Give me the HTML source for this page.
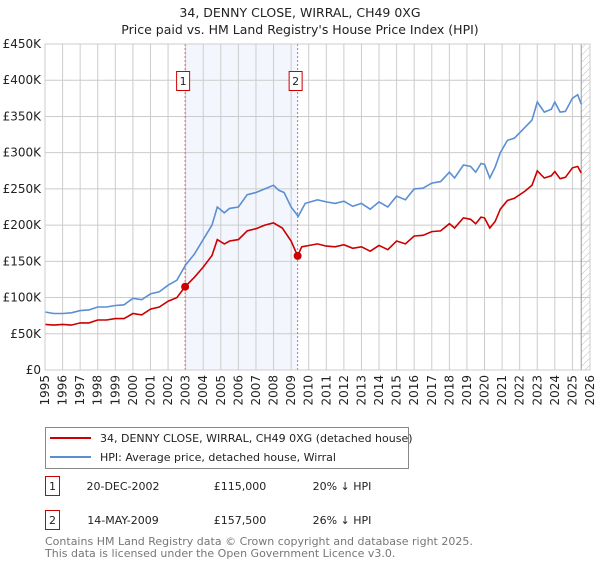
<!DOCTYPE html>
<html><head><meta charset="utf-8"><style>
body{margin:0;background:#fff;font-family:"Liberation Sans","DejaVu Sans",sans-serif;}
svg text{font-family:"DejaVu Sans","Liberation Sans",sans-serif;}
</style></head><body>
<svg width="600" height="560" xmlns="http://www.w3.org/2000/svg">
<defs><pattern id="hatch" width="5" height="5" patternUnits="userSpaceOnUse" patternTransform="rotate(45)"><line x1="0" y1="0" x2="0" y2="5" stroke="#bbb" stroke-width="1"/></pattern></defs>
<text x="300" y="17" text-anchor="middle" font-size="12.5" fill="#222">34, DENNY CLOSE, WIRRAL, CH49 0XG</text>
<text x="300" y="34" text-anchor="middle" font-size="12.5" fill="#222">Price paid vs. HM Land Registry's House Price Index (HPI)</text>
<g id="plot"></g>
<g id="legend">
<rect x="45.5" y="427.5" width="363" height="41" fill="#fff" stroke="#888"/>
<line x1="50" y1="438" x2="91" y2="438" stroke="#cc0000" stroke-width="2"/>
<text x="100" y="442" font-size="11" fill="#222">34, DENNY CLOSE, WIRRAL, CH49 0XG (detached house)</text>
<line x1="50" y1="457" x2="91" y2="457" stroke="#5b8fd4" stroke-width="2"/>
<text x="100" y="461" font-size="11" fill="#222">HPI: Average price, detached house, Wirral</text>
</g>
<g font-size="11" fill="#222">
<rect x="45.5" y="476.5" width="14" height="19" fill="#fff" stroke="#cc0000"/>
<text x="52.5" y="490" text-anchor="middle">1</text>
<text x="123" y="490" text-anchor="middle">20-DEC-2002</text>
<text x="240" y="490" text-anchor="middle">£115,000</text>
<text x="342" y="490" text-anchor="middle">20% ↓ HPI</text>
<rect x="45.5" y="510.5" width="14" height="19" fill="#fff" stroke="#cc0000"/>
<text x="52.5" y="524" text-anchor="middle">2</text>
<text x="123" y="524" text-anchor="middle">14-MAY-2009</text>
<text x="240" y="524" text-anchor="middle">£157,500</text>
<text x="342" y="524" text-anchor="middle">26% ↓ HPI</text>
</g>
<text x="45" y="545" font-size="11" fill="#777">Contains HM Land Registry data © Crown copyright and database right 2025.</text>
<text x="45" y="557" font-size="11" fill="#777">This data is licensed under the Open Government Licence v3.0.</text>
</svg>
<script>
const yTicks=[0,50000,100000,150000,200000,250000,300000,350000,400000,450000];
const yTickLabels=["£0","£50K","£100K","£150K","£200K","£250K","£300K","£350K","£400K","£450K"];
const years=[1995,1996,1997,1998,1999,2000,2001,2002,2003,2004,2005,2006,2007,2008,2009,2010,2011,2012,2013,2014,2015,2016,2017,2018,2019,2020,2021,2022,2023,2024,2025,2026];
const hpiDates=[1995,1995.5,1996,1996.5,1997,1997.5,1998,1998.5,1999,1999.5,2000,2000.5,2001,2001.5,2002,2002.5,2003,2003.5,2004,2004.5,2004.8,2005.2,2005.5,2006,2006.5,2007,2007.5,2008,2008.3,2008.6,2009,2009.4,2009.8,2010.5,2011,2011.5,2012,2012.5,2013,2013.5,2014,2014.5,2015,2015.5,2016,2016.5,2017,2017.5,2018,2018.3,2018.8,2019.2,2019.5,2019.8,2020,2020.3,2020.6,2020.9,2021.3,2021.7,2022.3,2022.7,2023,2023.4,2023.8,2024,2024.3,2024.6,2025,2025.3,2025.5];
const hpiValues=[80000,78000,78000,79000,82000,83000,87000,87000,89000,90000,99000,97000,105000,108000,117000,124000,145000,160000,180000,200000,225000,217000,223000,225000,242000,245000,250000,255000,248000,245000,225000,212000,230000,235000,232000,230000,233000,226000,230000,222000,232000,225000,240000,235000,250000,251000,258000,260000,273000,265000,283000,281000,273000,285000,284000,265000,280000,300000,317000,320000,335000,345000,370000,356000,360000,370000,356000,357000,375000,380000,367000];
const priceDates=[1995,1995.5,1996,1996.5,1997,1997.5,1998,1998.5,1999,1999.5,2000,2000.5,2001,2001.5,2002,2002.5,2002.97,2003.5,2004,2004.5,2004.8,2005.2,2005.5,2006,2006.5,2007,2007.5,2008,2008.5,2009,2009.37,2009.6,2010.5,2011,2011.5,2012,2012.5,2013,2013.5,2014,2014.5,2015,2015.5,2016,2016.5,2017,2017.5,2018,2018.3,2018.8,2019.2,2019.5,2019.8,2020,2020.3,2020.6,2020.9,2021.3,2021.7,2022.3,2022.7,2023,2023.4,2023.8,2024,2024.3,2024.6,2025,2025.3,2025.5];
const priceValues=[63000,62000,63000,62000,65000,65000,69000,69000,71000,71000,78000,76000,84000,87000,95000,100000,115000,128000,142000,158000,180000,174000,178000,180000,192000,195000,200000,203000,196000,178000,157500,170000,174000,171000,170000,173000,168000,170000,164000,172000,166000,178000,174000,185000,186000,191000,192000,202000,196000,210000,208000,202000,211000,210000,196000,205000,222000,234000,237000,247000,255000,275000,265000,268000,274000,264000,266000,279000,281000,272000];
const saleDates=[2002.97,2009.37];
const saleValues=[115000,157500];
const saleLabels=["1","2"];
const X0=45,X1=590,Y0=370,Y1=44;
const xs=d=>X0+(d-1995)/(2026-1995)*(X1-X0);
const ys=v=>Y0-v/450000*(Y0-Y1);
const NS="http://www.w3.org/2000/svg";
const g=document.getElementById('plot');
function mk(t,a){const e=document.createElementNS(NS,t);for(const k in a)e.setAttribute(k,a[k]);g.appendChild(e);return e;}
let e=mk('rect',{x:xs(saleDates[0]),y:Y1,width:xs(saleDates[1])-xs(saleDates[0]),height:Y0-Y1,fill:'#eef3fc',opacity:0.7});


e=mk('rect',{x:xs(2025.5),y:Y1,width:X1-xs(2025.5),height:Y0-Y1,fill:'url(#hatch)'});


yTicks.forEach((v,i)=>{
 let l=mk('line',{x1:X0,x2:X1,y1:ys(v),y2:ys(v),stroke:'#ccc'});
 
 
 let t=mk('text',{x:X0-4,y:ys(v)+4,'text-anchor':'end','font-size':'12',fill:'#222'});
 t.textContent=yTickLabels[i];
 
 
});
years.forEach(y=>{
 let l=mk('line',{x1:xs(y),x2:xs(y),y1:Y1,y2:Y0,stroke:'#ccc'});
 
 
 let t=mk('text',{x:0,y:0,'text-anchor':'end','font-size':'12',fill:'#222',transform:`translate(${xs(y)+4},${Y0+5}) rotate(-90)`});
 t.textContent=y;
 
 
});
e=mk('line',{x1:xs(2025.5),x2:xs(2025.5),y1:Y1,y2:Y0,stroke:'#999'});


saleDates.forEach((d,i)=>{
 let l=mk('line',{x1:xs(d),x2:xs(d),y1:Y1,y2:Y0,stroke:'#e06666','stroke-dasharray':'2,2'});
 
 
});
function path(ds,vs,col,name){
 let p=ds.map((d,i)=>(i?'L':'M')+xs(d).toFixed(1)+','+ys(vs[i]).toFixed(1)).join('');
 let el=mk('path',{d:p,fill:'none',stroke:col,'stroke-width':1.6});
 
 
}
path(hpiDates,hpiValues,'#5b8fd4','hpi-line');
path(priceDates,priceValues,'#cc0000','price-paid-line');
saleDates.forEach((d,i)=>{
 let c=mk('circle',{cx:xs(d),cy:ys(saleValues[i]),r:4,fill:'#cc0000'});
 
 
 let bx=xs(d)-9;
 let r=mk('rect',{x:bx+0.5,y:71.5,width:13,height:19,fill:'#fff',stroke:'#cc0000'});
 
 
 let t=mk('text',{x:bx+7,y:85,'text-anchor':'middle','font-size':'11',fill:'#222'});
 t.textContent=saleLabels[i];
 
 
});
let ax=mk('rect',{x:X0,y:Y1,width:X1-X0,height:Y0-Y1,fill:'none',stroke:'#ccc'});


</script>
</body></html>
